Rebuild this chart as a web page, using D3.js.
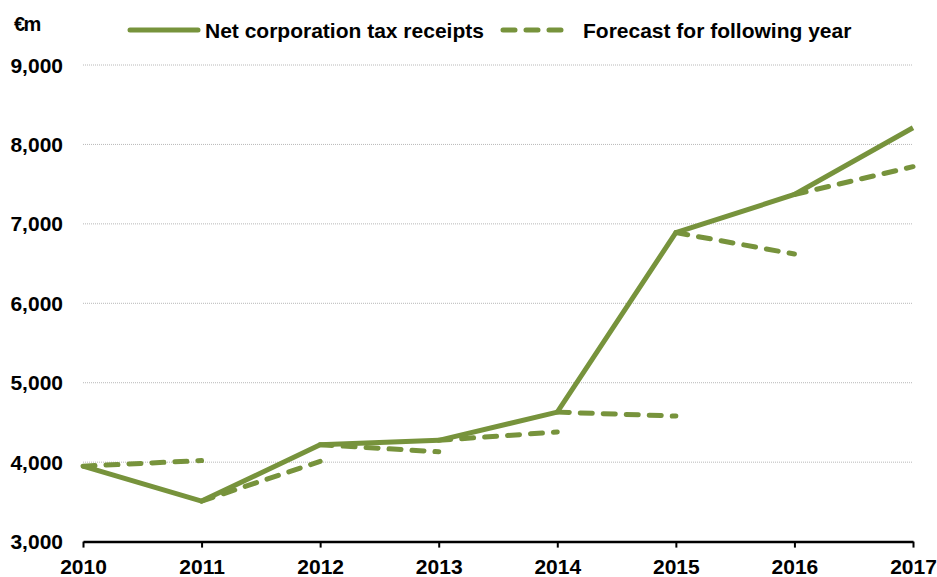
<!DOCTYPE html>
<html>
<head>
<meta charset="utf-8">
<script src="https://cdn.jsdelivr.net/npm/d3@7"></script>
<style>
  body { margin: 0; background: #fff; }
  text { font-family: "Liberation Sans", Arial, sans-serif; font-weight: bold; fill: #000; }
</style>
</head>
<body>
<div id="mount"></div>
<script>
'use strict';

// data
const years = [2010, 2011, 2012, 2013, 2014, 2015, 2016, 2017];
const receipts = [3950, 3510, 4220, 4275, 4630, 6890, 7370, 8210];
// forecast made in each year for the following year (2011..2017)
const forecastNext = [4020, 4010, 4130, 4380, 4580, 6620, 7720];
const yTicks = [3000, 4000, 5000, 6000, 7000, 8000, 9000];
const seriesNames = ['Net corporation tax receipts', 'Forecast for following year'];

const green = '#77933c';
const W = 937, H = 577;
const margin = { top: 65, left: 83, bottom: 35, right: 24 };

const svg = d3.select('#mount').append('svg')
    .attr('width', W)
    .attr('height', H);

const x = d3.scaleLinear()
    .domain([2010, 2017])
    .range([margin.left, W - margin.right]);

const y = d3.scaleLinear()
    .domain([3000, 9000])
    .range([H - margin.bottom - 0.4, margin.top]);

// dotted gridlines
svg.append('g')
  .selectAll('line')
  .data(yTicks.filter(d => d > 3000))
  .join('line')
    .attr('x1', x(2010))
    .attr('x2', x(2017))
    .attr('y1', d => y(d))
    .attr('y2', d => y(d))
    .attr('stroke', '#b8b8b8')
    .attr('stroke-width', 1)
    .attr('stroke-dasharray', '1,1');

// y labels
svg.append('g')
  .selectAll('text')
  .data(yTicks)
  .join('text')
    .attr('x', 63)
    .attr('y', d => y(d))
    .attr('dy', '0.36em')
    .attr('text-anchor', 'end')
    .style('font-size', '21px')
    .text(d => d3.format(',')(d));

svg.append('text')
    .attr('x', 14)
    .attr('y', 31)
    .style('font-size', '20px')
    .style('letter-spacing', '-1.5px')
    .text('€m');

// x axis
const xAxis = svg.append('g')
    .attr('transform', `translate(0, ${y(3000)})`)
    .call(d3.axisBottom(x).tickValues(years).tickFormat(d3.format('d')).tickSize(6).tickSizeOuter(0));
xAxis.select('.domain').attr('stroke', '#000').attr('stroke-width', 2.5);
xAxis.selectAll('.tick line').attr('stroke', '#000').attr('stroke-width', 2);
xAxis.selectAll('.tick text')
    .attr('y', 17)
    .style('font-size', '21px')
    .style('font-family', '"Liberation Sans", Arial, sans-serif')
    .style('font-weight', 'bold')
    .attr('fill', '#000');

// forecast segments: from the actual value of a year to its forecast for the next year
const line = d3.line().x(d => x(d[0])).y(d => y(d[1]));
const segments = forecastNext.map((f, i) => [[years[i], receipts[i]], [years[i + 1], f]]);

svg.append('g')
  .selectAll('path')
  .data(segments)
  .join('path')
    .attr('d', line)
    .attr('fill', 'none')
    .attr('stroke', green)
    .attr('stroke-width', 5)
    .attr('stroke-linecap', 'round')
    .attr('stroke-dasharray', '12,11');

// actual receipts
svg.append('path')
    .datum(years.map((yr, i) => [yr, receipts[i]]))
    .attr('d', line)
    .attr('fill', 'none')
    .attr('stroke', green)
    .attr('stroke-width', 5)
    .attr('stroke-linejoin', 'miter');

// legend
const legend = svg.append('g');
legend.append('line')
    .attr('x1', 130).attr('x2', 198)
    .attr('y1', 30).attr('y2', 30)
    .attr('stroke', green)
    .attr('stroke-width', 5)
    .attr('stroke-linecap', 'round');
legend.append('text')
    .attr('x', 205).attr('y', 30).attr('dy', '0.36em')
    .style('font-size', '21px')
    .text(seriesNames[0]);
legend.append('line')
    .attr('x1', 503).attr('x2', 566)
    .attr('y1', 30).attr('y2', 30)
    .attr('stroke', green)
    .attr('stroke-width', 5)
    .attr('stroke-linecap', 'round')
    .attr('stroke-dasharray', '12,11');
legend.append('text')
    .attr('x', 583).attr('y', 30).attr('dy', '0.36em')
    .style('font-size', '21px')
    .text(seriesNames[1]);
</script>
</body>
</html>
